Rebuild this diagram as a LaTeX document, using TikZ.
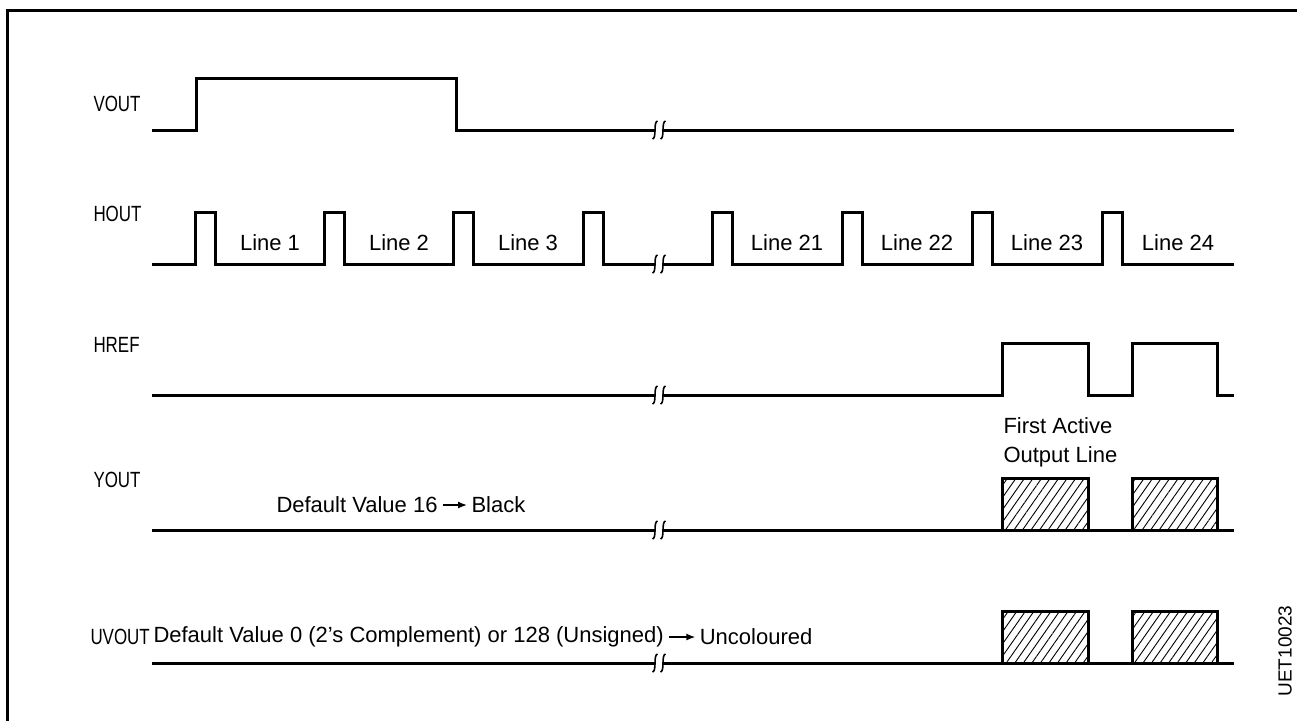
\documentclass[tikz,border=0pt]{standalone}
\usepackage{fontspec}
\setmainfont{Liberation Sans}
\newfontfamily\namefont{Liberation Sans}[FakeStretch=0.77]
\usetikzlibrary{arrows.meta, positioning, calc, patterns.meta}

\tikzset{
  brkmark/.pic={\draw[line width=1.6pt] (2.5,-9) .. controls (-2,-8) and (2,8) .. (-2.5,9);},
}

\begin{document}
\begin{tikzpicture}[x=1pt, y=-1pt, line width=3pt, line join=miter,
  font=\fontsize{22}{29}\selectfont,
  signame/.style={anchor=west, inner sep=0pt, font=\fontsize{22}{29}\selectfont\namefont},
  linelabel/.style={inner sep=0pt},
  hatchbox/.style={pattern={Lines[angle=55, distance=7pt, line width=0.9pt]}},
  valarrow/.style={line width=1.4pt, -{Latex[length=9pt, width=7pt]}, shorten <=4pt, shorten >=3pt}]

  % Define constants
  \def\xstart{152}
  \def\xend{1234}
  \def\brkl{655}
  \def\brkr{663}

  \useasboundingbox (0,0) rectangle (1297,721);

  % Outer frame (open at right and bottom)
  \draw (7,721) -- (7,10) -- (1297,10);

  % Signal names
  \node[signame] (vout)  at (92,104) {VOUT};
  \node[signame] (hout)  at (92,214) {HOUT};
  \node[signame] (href)  at (92,345) {HREF};
  \node[signame] (yout)  at (92,480) {YOUT};
  \node[signame] (uvout) at (89,637) {UVOUT};

  % VOUT
  \draw (\xstart,130) -- (196,130) -- (196,78) -- (456,78) -- (456,130) -- (\brkl,130);
  \draw (\brkr,130) -- (\xend,130);

  % HOUT (line pulses)
  \draw (\xstart,264) foreach \p in {195,324,453,583} { -- (\p,264) -- (\p,212) -- (\p+20,212) -- (\p+20,264) } -- (\brkl,264);
  \draw (\brkr,264) foreach \p in {712,842,972,1102} { -- (\p,264) -- (\p,212) -- (\p+20,212) -- (\p+20,264) } -- (\xend,264);
  \foreach \n/\x in {1/270, 2/399, 3/528, 21/787, 22/917, 23/1047, 24/1178}
    \node[linelabel] (line\n) at (\x,243) {Line \n};

  % HREF
  \draw (\xstart,395) -- (\brkl,395);
  \draw (\brkr,395) -- (1002,395) -- (1002,343) -- (1088,343) -- (1088,395)
    -- (1132,395) -- (1132,343) -- (1217,343) -- (1217,395) -- (\xend,395);
  \node[anchor=base west, inner sep=0pt] (first) at (1002,433) {First Active};
  \node[anchor=base west, inner sep=0pt] (outline) at (1002,462) {Output Line};

  % YOUT
  \draw (\xstart,530) -- (\brkl,530);
  \draw (\brkr,530) -- (\xend,530);
  \draw[hatchbox] (1002,530) rectangle (1088,478);
  \draw[hatchbox] (1132,530) rectangle (1217,478);
  \node[anchor=west, inner sep=0pt] (ydef) at (275,505) {Default Value 16};
  \node[anchor=west, inner sep=0pt, right=31pt of ydef] (yblack) {Black};
  \draw[valarrow] (ydef) -- (yblack);

  % UVOUT
  \draw (\xstart,663) -- (\brkl,663);
  \draw (\brkr,663) -- (\xend,663);
  \draw[hatchbox] (1002,663) rectangle (1088,611);
  \draw[hatchbox] (1132,663) rectangle (1217,611);
  \node[anchor=west, inner sep=0pt] (uvdef) at (152,637) {Default Value 0 (2's Complement) or 128 (Unsigned)};
  \node[anchor=west, inner sep=0pt, right=33pt of uvdef] (uvcol) {Uncoloured};
  \draw[valarrow] (uvdef) -- (uvcol);

  % Break marks on every trace
  \foreach \y in {130,264,395,530,663} {
    \pic at (\brkl,\y) {brkmark};
    \pic at (\brkr,\y) {brkmark};
  }

  % Figure number
  \node[rotate=90, inner sep=0pt, font=\fontsize{19}{22}\selectfont] (fignum) at (1285,651) {UET10023};

\end{tikzpicture}
\end{document}
